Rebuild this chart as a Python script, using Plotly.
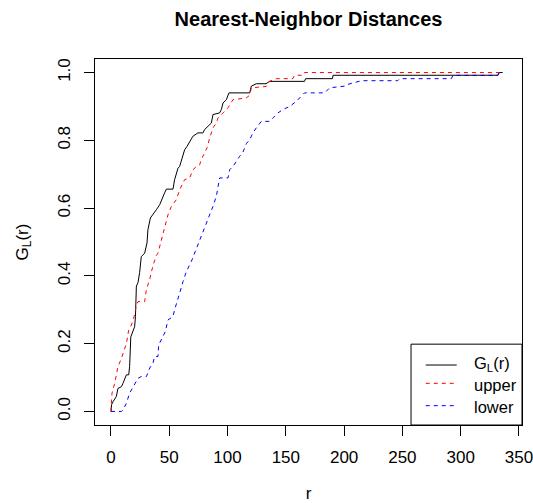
import plotly.graph_objects as go

# ---- data ----
g_r = [0, 0.5, 2, 4.6, 6, 9, 10.3, 13.2, 15.2, 16, 17, 19, 20.3, 21, 21.8, 23.2, 24.6, 26, 28.9,
       30.9, 31.7, 33.8, 36, 38.9, 41.8, 43.2, 44.6, 46, 47.5, 53.2, 54.6, 57.5, 58.9, 60.4, 61.8,
       63.2, 65.2, 67.5, 70.3, 74.6, 78.9, 80.4, 83.2, 86.1, 87.5, 93.2, 94.7, 96.1, 99, 101.2,
       119, 120.4, 124.7, 133, 136, 166, 167, 190, 190.5, 332, 333, 336]
g_val = [0, 0.02, 0.03, 0.044, 0.068, 0.073, 0.083, 0.108, 0.108, 0.132, 0.22, 0.24, 0.25, 0.28,
         0.37, 0.38, 0.41, 0.457, 0.467, 0.497, 0.536, 0.571, 0.58, 0.595, 0.61, 0.62, 0.63, 0.645,
         0.656, 0.656, 0.684, 0.718, 0.723, 0.738, 0.753, 0.772, 0.782, 0.797, 0.812, 0.822, 0.822,
         0.832, 0.841, 0.851, 0.876, 0.881, 0.891, 0.91, 0.92, 0.94, 0.94, 0.96, 0.967, 0.967, 0.974,
         0.974, 0.982, 0.982, 0.992, 0.992, 1.0, 1.0]

up_r = [0, 0.9, 3.2, 6, 9, 11.8, 13.2, 15.2, 17.5, 20.3, 21.8, 23.2, 28.9, 30.4, 33.2, 36, 38.9,
        40.3, 44.6, 48.9, 51.8, 56.1, 58.9, 63.2, 67.5, 70.3, 73.3, 76.1, 77.5, 80.4, 82.4, 84.7,
        86.1, 87.5, 90.4, 91.8, 96.1, 100.4, 104.7, 116, 119, 120.4, 133.2, 136, 141.9, 156, 157.5,
        165, 166, 336]
up_val = [0, 0.054, 0.083, 0.132, 0.157, 0.182, 0.2, 0.24, 0.255, 0.285, 0.315, 0.324, 0.324, 0.36,
          0.39, 0.43, 0.46, 0.467, 0.526, 0.58, 0.605, 0.625, 0.654, 0.684, 0.689, 0.713, 0.723,
          0.728, 0.743, 0.763, 0.778, 0.807, 0.822, 0.837, 0.851, 0.866, 0.881, 0.896, 0.92, 0.925,
          0.933, 0.955, 0.959, 0.974, 0.982, 0.982, 0.992, 0.992, 1.0, 1.0]

lo_r = [0, 9, 10.3, 13.2, 16, 20.3, 23.2, 26, 30.4, 33.2, 36, 37.5, 40.3, 40.9, 44.6, 46.7, 48.9,
        53.2, 54.6, 57.5, 58.9, 61.8, 64.7, 69, 71.8, 76.1, 80.4, 84.7, 87.5, 90.4, 91.8, 93.2,
        100.4, 101.8, 104.7, 107.6, 110.4, 113.2, 116.1, 119, 121.8, 124.7, 129, 136, 139, 143.3,
        147.6, 153.3, 159, 166, 183.4, 187.6, 200.5, 202, 214.8, 246, 247.7, 292, 293.4, 332, 333, 336]
lo_val = [0, 0, 0.004, 0.024, 0.054, 0.078, 0.098, 0.103, 0.103, 0.128, 0.142, 0.162, 0.162, 0.196,
          0.223, 0.236, 0.27, 0.28, 0.3, 0.339, 0.349, 0.383, 0.413, 0.443, 0.467, 0.507, 0.546,
          0.58, 0.605, 0.635, 0.659, 0.689, 0.689, 0.713, 0.723, 0.74, 0.753, 0.765, 0.79, 0.802,
          0.822, 0.837, 0.856, 0.856, 0.866, 0.881, 0.891, 0.9, 0.915, 0.94, 0.94, 0.955, 0.96,
          0.964, 0.976, 0.976, 0.982, 0.982, 0.992, 0.992, 1.0, 1.0]

x_ticks = [0, 50, 100, 150, 200, 250, 300, 350]
y_ticks = [0.0, 0.2, 0.4, 0.6, 0.8, 1.0]
y_tick_labels = ["0.0", "0.2", "0.4", "0.6", "0.8", "1.0"]

legend_names = ["G<sub>L</sub>(r)", "upper", "lower"]
legend_colors = ["black", "#FF0000", "#0000FF"]
legend_dash = ["solid", "4px,4px", "4px,4px"]

FONT = "Liberation Sans, Arial, sans-serif"

fig = go.Figure()
for xs, ys, col, dash in [(g_r, g_val, legend_colors[0], legend_dash[0]),
                          (up_r, up_val, legend_colors[1], legend_dash[1]),
                          (lo_r, lo_val, legend_colors[2], legend_dash[2])]:
    fig.add_trace(go.Scatter(x=xs, y=ys, mode="lines",
                             line=dict(color=col, width=1, dash=dash),
                             showlegend=False, hoverinfo="skip"))

# legend box (drawn manually, like R's legend)
shapes = [dict(type="rect", xref="x", yref="y", x0=257.4, x1=352.6, y0=-0.04, y1=0.1985,
               line=dict(color="black", width=1), fillcolor="white", layer="below")]
leg_line_y = [0.137, 0.083, 0.017]
leg_text_y = [0.14, 0.079, 0.013]
annotations = []
for i in range(3):
    shapes.append(dict(type="line", xref="x", yref="y", x0=270, x1=296.6,
                       y0=leg_line_y[i], y1=leg_line_y[i],
                       line=dict(color=legend_colors[i], width=1, dash=legend_dash[i])))
    annotations.append(dict(xref="x", yref="y", x=309.4, y=leg_text_y[i], text=legend_names[i],
                            showarrow=False, xanchor="left", yanchor="middle",
                            font=dict(size=16.5, color="black", family=FONT)))

fig.update_layout(
    width=533, height=503,
    margin=dict(l=95, r=11, t=59, b=78),
    plot_bgcolor="white", paper_bgcolor="white",
    font=dict(family=FONT, size=17, color="black"),
    title=dict(text="<b>Nearest-Neighbor Distances</b>", x=0.5, xref="paper",
               y=1 - 18.5 / 503, yref="container", xanchor="center", yanchor="middle",
               font=dict(size=20, family=FONT, color="black")),
    xaxis=dict(range=[-13.7, 352.6], tickvals=x_ticks, ticks="outside", ticklen=10,
               tickcolor="black", showline=True, linecolor="black", linewidth=1, mirror=True,
               showgrid=False, zeroline=False, ticklabelstandoff=7, automargin=False,
               ticklabeloverflow="allow", tickfont=dict(size=17),
               title=dict(text="r", standoff=22, font=dict(size=17))),
    yaxis=dict(range=[-0.04, 1.04], tickvals=y_ticks, ticktext=y_tick_labels, ticks="outside",
               ticklen=10, tickcolor="black", tickangle=-90, showline=True, linecolor="black",
               linewidth=1, mirror=True, showgrid=False, zeroline=False, ticklabelstandoff=7,
               automargin=False, ticklabeloverflow="allow", tickfont=dict(size=17),
               title=dict(text="G<sub>L</sub>(r)", standoff=22, font=dict(size=17))),
    shapes=shapes,
    annotations=annotations,
)

fig.write_html("out.html")
